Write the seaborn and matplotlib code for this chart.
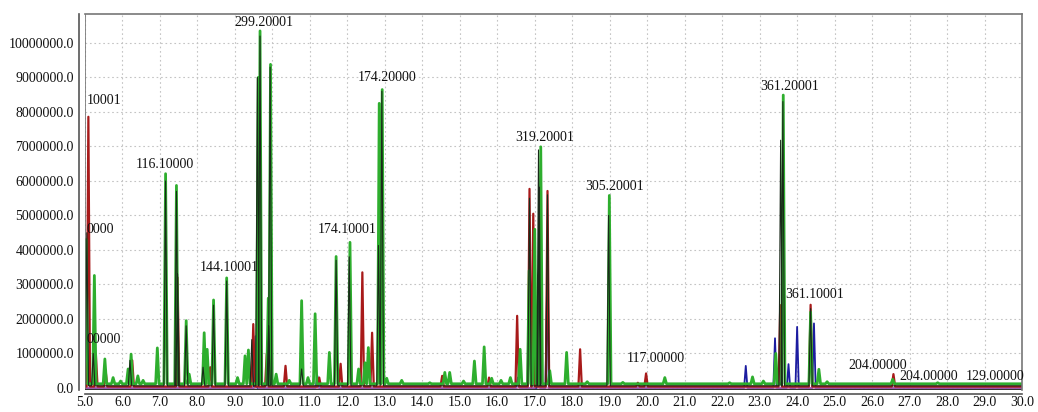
import matplotlib
matplotlib.use("Agg")
import matplotlib.pyplot as plt
import seaborn as sns
import pandas as pd
import numpy as np

# ---------------- data (retention time in min, intensity in millions of counts) ----------------
green_rt = [5.03, 5.25, 5.53, 5.75, 5.95, 6.15, 6.23, 6.41, 6.55, 6.93, 7.15, 7.44, 7.70, 7.78,
            8.18, 8.26, 8.43, 8.78, 9.07, 9.27, 9.36, 9.62, 9.67, 9.89, 9.95, 10.10, 10.45,
            10.78, 10.95, 11.14, 11.52, 11.70, 12.07, 12.30, 12.47, 12.56, 12.85, 12.93, 13.05,
            13.45, 14.20, 14.60, 14.73, 15.10, 15.39, 15.65, 15.85, 16.10, 16.35, 16.61, 16.85,
            17.00, 17.16, 17.40, 17.85, 18.40, 18.99, 19.35, 20.47, 21.30, 22.20, 22.81, 23.10,
            23.43, 23.63, 24.36, 24.58, 24.80, 26.55, 27.75, 29.10]
green_h = [4.30, 3.26, 0.84, 0.30, 0.20, 0.55, 0.98, 0.35, 0.22, 1.16, 6.21, 5.87, 1.95, 0.40,
           1.60, 1.12, 2.55, 3.19, 0.30, 0.93, 1.10, 9.00, 10.35, 2.60, 9.38, 0.40, 0.22,
           2.53, 0.30, 2.15, 1.03, 3.81, 4.22, 0.55, 0.73, 1.17, 8.25, 8.65, 0.28,
           0.22, 0.15, 0.45, 0.45, 0.20, 0.78, 1.19, 0.28, 0.22, 0.30, 1.12, 3.40,
           4.60, 6.99, 0.50, 1.03, 0.18, 5.58, 0.16, 0.30, 0.12, 0.15, 0.32, 0.20,
           1.00, 8.49, 2.20, 0.54, 0.18, 0.25, 0.15, 0.12]

black_rt = [5.05, 5.22, 6.20, 7.15, 7.44, 7.47, 7.70, 8.15, 8.43, 8.78, 9.45, 9.60, 9.67,
            9.90, 9.94, 10.78, 11.70, 12.05, 12.83, 12.92, 16.86, 17.10, 17.12, 17.34,
            18.97, 23.56, 23.62, 24.36]
black_h = [4.50, 1.00, 0.80, 6.00, 5.70, 3.30, 1.80, 0.60, 2.40, 3.10, 1.40, 9.00, 10.20,
           1.80, 9.30, 0.55, 3.70, 3.80, 4.13, 8.60, 5.50, 6.90, 5.82, 5.60,
           5.00, 7.18, 8.30, 2.30]

red_rt = [5.09, 5.29, 5.55, 6.26, 7.47, 8.34, 9.49, 9.85, 10.35, 11.25, 11.82, 12.40, 12.66,
          14.53, 15.78, 16.53, 16.86, 16.96, 17.34, 18.21, 19.75, 19.97, 23.55, 24.36, 26.57]
red_h = [7.86, 0.98, 0.50, 0.80, 3.20, 0.60, 1.85, 1.00, 0.64, 0.30, 0.70, 3.35, 1.60,
         0.35, 0.30, 2.09, 5.77, 5.05, 5.71, 1.12, 0.15, 0.42, 2.40, 2.41, 0.40]

blue_rt = [9.55, 11.20, 16.55, 17.10, 17.33, 22.63, 23.41, 23.77, 24.00, 24.45]
blue_h = [1.50, 0.35, 0.30, 3.20, 3.10, 0.64, 1.44, 0.69, 1.77, 1.87]

pink_rt = [9.58, 17.05]
pink_h = [0.25, 0.15]

ion_labels = ["10001", "0000", "00000", "116.10000", "299.20001", "144.10001", "174.10001",
              "174.20000", "319.20001", "305.20001", "117.00000", "361.20001", "361.10001",
              "204.00000", "204.00000", "129.00000"]
label_rt = [5.04, 5.03, 5.05, 7.13, 9.78, 8.84, 11.99, 13.07, 17.27, 19.13, 20.23, 23.81,
            24.46, 26.16, 27.50, 29.28]
label_int = [8.32, 4.58, 1.39, 6.49, 10.58, 3.48, 4.58, 8.99, 7.25, 5.83, 0.84, 8.73,
             2.72, 0.64, 0.32, 0.32]
label_align = ["left", "left", "left"] + ["center"] * 13

x_ticks = [5.0 + i for i in range(26)]
y_ticks = [i * 1e6 for i in range(11)]

SCALE = 1e6


def build_trace(rts, hs, base, w=0.045):
    xs, ys = [5.0], [base]
    for t, h in sorted(zip(rts, hs)):
        xs += [t - w, t, t + w]
        ys += [base, h * SCALE, base]
    xs.append(30.0)
    ys.append(base)
    return pd.DataFrame({"time": xs, "intensity": ys})


sns.set_style("white")
plt.rcParams["font.family"] = ["Liberation Serif", "DejaVu Serif"]

fig, ax = plt.subplots(figsize=(10.38, 4.12), dpi=100)
fig.subplots_adjust(left=85 / 1038, right=1022 / 1038, top=1 - 14 / 412, bottom=1 - 390 / 412)

ax.set_xlim(5.0, 30.0)
ax.set_ylim(-0.06e6, 10.84e6)
ax.set_xticks(x_ticks)
ax.set_yticks(y_ticks)
ax.set_xticklabels([f"{v:.1f}" for v in x_ticks], fontweight="bold", fontsize=10)
ax.set_yticklabels([f"{v:.1f}" for v in y_ticks], fontweight="bold", fontsize=10)
ax.grid(True, linestyle=(0, (1.5, 2.5)), color="#c4c4c4", linewidth=0.8)
ax.set_axisbelow(True)

traces = [
    (build_trace(blue_rt, blue_h, 0.0), "#1c1ca0", 1.3),
    (build_trace(pink_rt, pink_h, 0.0), "#e070c0", 1.0),
    (build_trace(red_rt, red_h, 0.04e6), "#a81a1a", 1.6),
    (build_trace(green_rt, green_h, 0.12e6), "#2eae2e", 2.0),
    (build_trace(black_rt, black_h, 0.06e6), "#1a2a1a", 0.8),
]
for df, col, lw in traces:
    sns.lineplot(data=df, x="time", y="intensity", sort=False, estimator=None,
                 color=col, linewidth=lw, ax=ax)

for txt, t, v, ha in zip(ion_labels, label_rt, label_int, label_align):
    ax.text(t, v * SCALE, txt, ha=ha, va="center", fontsize=10, color="#111111", clip_on=False)

ax.set_xlabel("")
ax.set_ylabel("")

# frame box + offset axes
for s in ["top", "right"]:
    ax.spines[s].set_color("#777777")
    ax.spines[s].set_linewidth(1.2)
ax.spines["left"].set_position(("outward", 4))
ax.spines["bottom"].set_position(("outward", 3))
ax.spines["left"].set_color("#555555")
ax.spines["bottom"].set_color("#555555")
ax.spines["left"].set_linewidth(1.2)
ax.spines["bottom"].set_linewidth(1.2)
ax.axvline(5.0, color="#777777", linewidth=1.2)
ax.axhline(-0.06e6, color="#333333", linewidth=1.6)
ax.tick_params(axis="y", direction="out", length=3, pad=1, colors="#111111")
ax.tick_params(axis="x", direction="in", length=3, pad=1.5, colors="#111111")

fig.savefig("out.png", dpi=100)
